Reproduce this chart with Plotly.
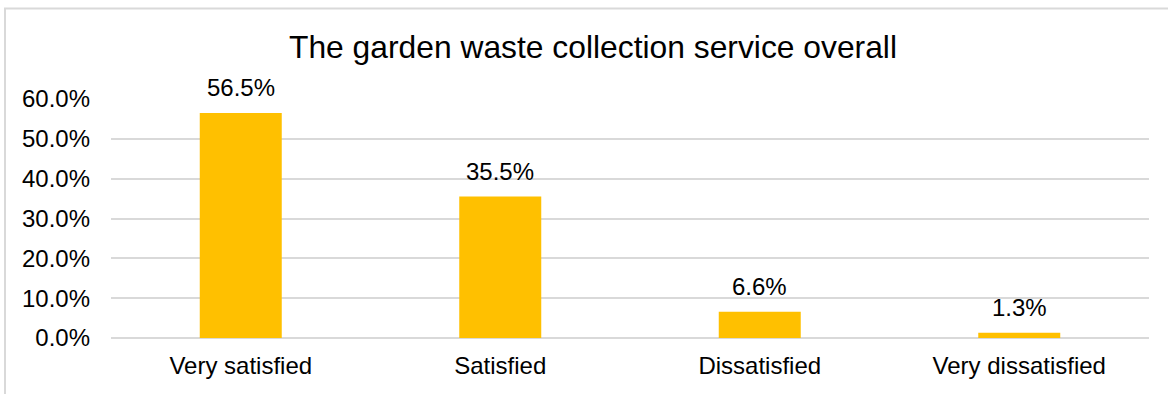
import plotly.graph_objects as go

# Survey responses: satisfaction with the garden waste collection service
categories = ["Very satisfied", "Satisfied", "Dissatisfied", "Very dissatisfied"]
shares = [56.5, 35.5, 6.6, 1.3]
tick_values = [0, 10, 20, 30, 40, 50, 60]
tick_labels = ["0.0%", "10.0%", "20.0%", "30.0%", "40.0%", "50.0%", "60.0%"]

FONT = "Arial, 'Liberation Sans', sans-serif"
BAR_COLOR = "#FFC000"
GRID_COLOR = "#D9D9D9"
LABEL_SIZE = 24

fig = go.Figure()
fig.add_trace(go.Bar(
    x=categories,
    y=shares,
    marker=dict(color=BAR_COLOR, line=dict(width=0)),
    hoverinfo="skip",
))

# Value labels above each bar
for cat, val in zip(categories, shares):
    fig.add_annotation(
        x=cat, y=val, xref="x", yref="y",
        text=f"{val:.1f}%",
        showarrow=False,
        yanchor="bottom",
        yshift=10,
        font=dict(family=FONT, size=LABEL_SIZE, color="#000000"),
    )

# Light frame around the chart area
fig.add_shape(
    type="rect", xref="paper", yref="paper",
    x0=-0.1021, x1=1.2, y0=-0.4, y1=1.379,
    line=dict(color=GRID_COLOR, width=2),
    fillcolor="rgba(0,0,0,0)",
    layer="below",
)

fig.update_layout(
    width=1168,
    height=394,
    margin=dict(l=111, r=19, t=99, b=56),
    paper_bgcolor="#FFFFFF",
    plot_bgcolor="#FFFFFF",
    showlegend=False,
    bargap=0.684,
    font=dict(family=FONT, size=LABEL_SIZE, color="#000000"),
    title=dict(
        text="The garden waste collection service overall",
        x=593 / 1168, xref="container", xanchor="center",
        y=1 - 47 / 394, yref="container", yanchor="middle",
        font=dict(family=FONT, size=31.8, color="#000000"),
    ),
    xaxis=dict(
        showgrid=False,
        showline=False,
        ticks="",
        ticklabelstandoff=11,
        tickfont=dict(family=FONT, size=LABEL_SIZE, color="#000000"),
    ),
    yaxis=dict(
        range=[0, 60],
        tickvals=tick_values,
        ticktext=tick_labels,
        showgrid=True,
        gridcolor=GRID_COLOR,
        gridwidth=2,
        zeroline=True,
        zerolinecolor=GRID_COLOR,
        zerolinewidth=2,
        showline=False,
        ticks="",
        ticklabelstandoff=20,
        tickfont=dict(family=FONT, size=LABEL_SIZE, color="#000000"),
    ),
)

fig.write_html("out.html")
